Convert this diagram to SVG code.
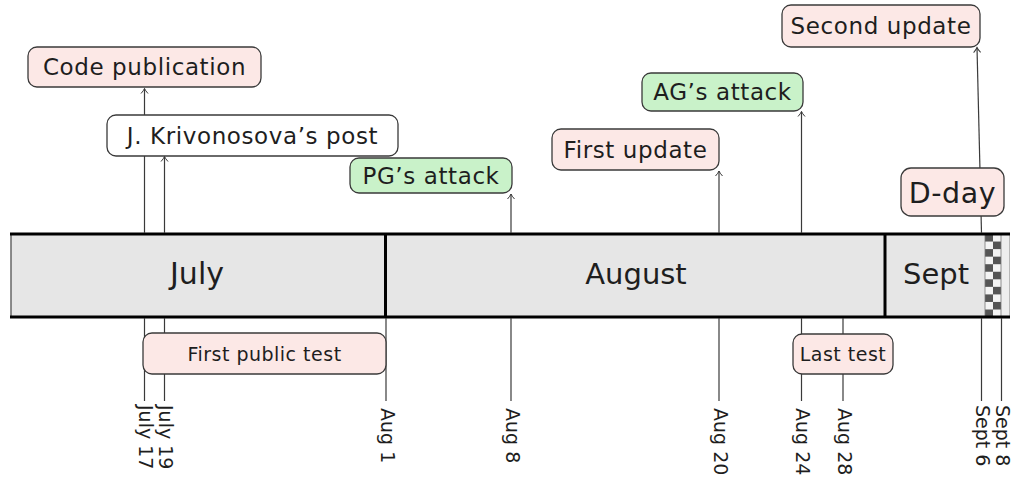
<svg xmlns="http://www.w3.org/2000/svg" width="1013" height="485" viewBox="0 0 1013 485">
<defs>
<style>
.box{stroke:#3a3a3a;stroke-width:1.3}
.pink{fill:#fce8e6}
.green{fill:#c9f2c9}
.white{fill:#ffffff}
.lbl{font-family:"DejaVu Sans",sans-serif;font-size:23px;letter-spacing:0.6px;fill:#1e1e1e;text-anchor:middle}
.big{font-family:"DejaVu Sans",sans-serif;font-size:28.5px;letter-spacing:0.6px;fill:#1e1e1e;text-anchor:middle}
.small{font-family:"DejaVu Sans",sans-serif;font-size:19px;letter-spacing:0.5px;fill:#1e1e1e;text-anchor:middle}
.tick{font-family:"DejaVu Sans",sans-serif;font-size:19px;fill:#1e1e1e}
.month{font-family:"DejaVu Sans",sans-serif;font-size:29px;fill:#1e1e1e;text-anchor:middle}
.conn{stroke:#3a3a3a;stroke-width:1.2;fill:none}
.dk{fill:#555555}
.lt{fill:#f4f4f4}
</style>
<marker id="arr" markerUnits="userSpaceOnUse" markerWidth="12" markerHeight="12" viewBox="-6 -6 12 12" refX="0" refY="0" orient="auto">
<path d="M-5,-3.5 Q-2,-0.8 0,0 Q-2,0.8 -5,3.5" fill="none" stroke="#3a3a3a" stroke-width="1"/>
</marker>
</defs>

<g id="timeline-bar">
<rect x="11" y="234" width="998" height="83" fill="#e6e6e6"/>
<line x1="11" y1="234" x2="11" y2="317" stroke="#666" stroke-width="1.5"/>
<line x1="1009" y1="234" x2="1009" y2="317" stroke="#888" stroke-width="1.2"/>
<rect x="1001" y="235" width="8" height="81" fill="#eeeeee"/>
<g id="checker">
<rect x="985" y="234" width="16" height="83" class="lt"/>
<rect x="985" y="234" width="8" height="7.55" class="dk"/>
<rect x="993" y="241.55" width="8" height="7.55" class="dk"/>
<rect x="985" y="249.1" width="8" height="7.55" class="dk"/>
<rect x="993" y="256.65" width="8" height="7.55" class="dk"/>
<rect x="985" y="264.2" width="8" height="7.55" class="dk"/>
<rect x="993" y="271.75" width="8" height="7.55" class="dk"/>
<rect x="985" y="279.3" width="8" height="7.55" class="dk"/>
<rect x="993" y="286.85" width="8" height="7.55" class="dk"/>
<rect x="985" y="294.4" width="8" height="7.55" class="dk"/>
<rect x="993" y="301.95" width="8" height="7.55" class="dk"/>
<rect x="985" y="309.5" width="8" height="7.5" class="dk"/>
<line x1="985" y1="234" x2="985" y2="317" stroke="#777" stroke-width="0.8"/>
<line x1="1001" y1="234" x2="1001" y2="317" stroke="#777" stroke-width="0.8"/>
</g>
<line x1="10" y1="234" x2="1010" y2="234" stroke="#000" stroke-width="3"/>
<line x1="10" y1="317" x2="1010" y2="317" stroke="#000" stroke-width="3"/>
<line x1="385.5" y1="234" x2="385.5" y2="317" stroke="#000" stroke-width="3"/>
<line x1="885" y1="234" x2="885" y2="317" stroke="#000" stroke-width="3"/>
<text class="month" x="197" y="284" style="font-size:30px">July</text>
<text class="month" x="636" y="284">August</text>
<text class="month" x="936" y="284">Sept</text>
</g>

<g id="connectors">
<line class="conn" x1="144.5" y1="233" x2="144.5" y2="88.5" marker-end="url(#arr)"/>
<line class="conn" x1="164.5" y1="233" x2="164.5" y2="156.5" marker-end="url(#arr)"/>
<line class="conn" x1="511" y1="233" x2="511" y2="194" marker-end="url(#arr)"/>
<line class="conn" x1="719" y1="233" x2="719" y2="171" marker-end="url(#arr)"/>
<line class="conn" x1="801.5" y1="233" x2="801.5" y2="111.5" marker-end="url(#arr)"/>
<line class="conn" x1="981.5" y1="233" x2="977" y2="47.5" marker-end="url(#arr)"/>
<line class="conn" x1="144.5" y1="318" x2="144.5" y2="401"/>
<line class="conn" x1="164.5" y1="318" x2="164.5" y2="401"/>
<line class="conn" x1="386" y1="318" x2="386" y2="401"/>
<line class="conn" x1="511" y1="318" x2="511" y2="401"/>
<line class="conn" x1="719" y1="318" x2="719" y2="401"/>
<line class="conn" x1="801.5" y1="318" x2="801.5" y2="401"/>
<line class="conn" x1="843" y1="318" x2="843" y2="401"/>
<line class="conn" x1="981.5" y1="318" x2="981.5" y2="401"/>
<line class="conn" x1="1001.5" y1="318" x2="1001.5" y2="401"/>
</g>

<g id="code-publication">
<rect class="box pink" x="28" y="47" width="233" height="40" rx="9"/>
<text class="lbl" x="144.5" y="75">Code publication</text>
</g>
<g id="krivonosova-post">
<rect class="box white" x="107" y="115" width="291" height="41" rx="9"/>
<text class="lbl" x="252.5" y="143.5">J. Krivonosova’s post</text>
</g>
<g id="pg-attack">
<rect class="box green" x="350" y="158" width="162" height="35" rx="9"/>
<text class="lbl" x="431" y="183.5">PG’s attack</text>
</g>
<g id="first-update">
<rect class="box pink" x="552" y="129" width="167" height="41" rx="9"/>
<text class="lbl" x="635.5" y="157.5">First update</text>
</g>
<g id="ag-attack">
<rect class="box green" x="642" y="73" width="161" height="38" rx="9"/>
<text class="lbl" x="722.5" y="100">AG’s attack</text>
</g>
<g id="second-update">
<rect class="box pink" x="782" y="5" width="198" height="42" rx="9"/>
<text class="lbl" x="881" y="34">Second update</text>
</g>
<g id="d-day">
<rect class="box pink" x="901" y="168" width="103" height="48" rx="10"/>
<text class="big" x="952.5" y="202.5">D-day</text>
</g>
<g id="first-public-test">
<rect class="box pink" x="143" y="333" width="243" height="41" rx="9"/>
<text class="small" x="264.5" y="360.5">First public test</text>
</g>
<g id="last-test">
<rect class="box pink" x="793" y="334" width="100" height="40" rx="9"/>
<text class="small" x="843" y="361">Last test</text>
</g>

<g id="tick-labels">
<text class="tick" transform="translate(139,405) rotate(90)">July 17</text>
<text class="tick" transform="translate(159,405) rotate(90)">July 19</text>
<text class="tick" transform="translate(380.5,408) rotate(90)">Aug 1</text>
<text class="tick" transform="translate(505.5,408) rotate(90)">Aug 8</text>
<text class="tick" transform="translate(713.5,408) rotate(90)">Aug 20</text>
<text class="tick" transform="translate(796,408) rotate(90)">Aug 24</text>
<text class="tick" transform="translate(837.5,408) rotate(90)">Aug 28</text>
<text class="tick" transform="translate(976,405) rotate(90)">Sept 6</text>
<text class="tick" transform="translate(996,405) rotate(90)">Sept 8</text>
</g>
</svg>
